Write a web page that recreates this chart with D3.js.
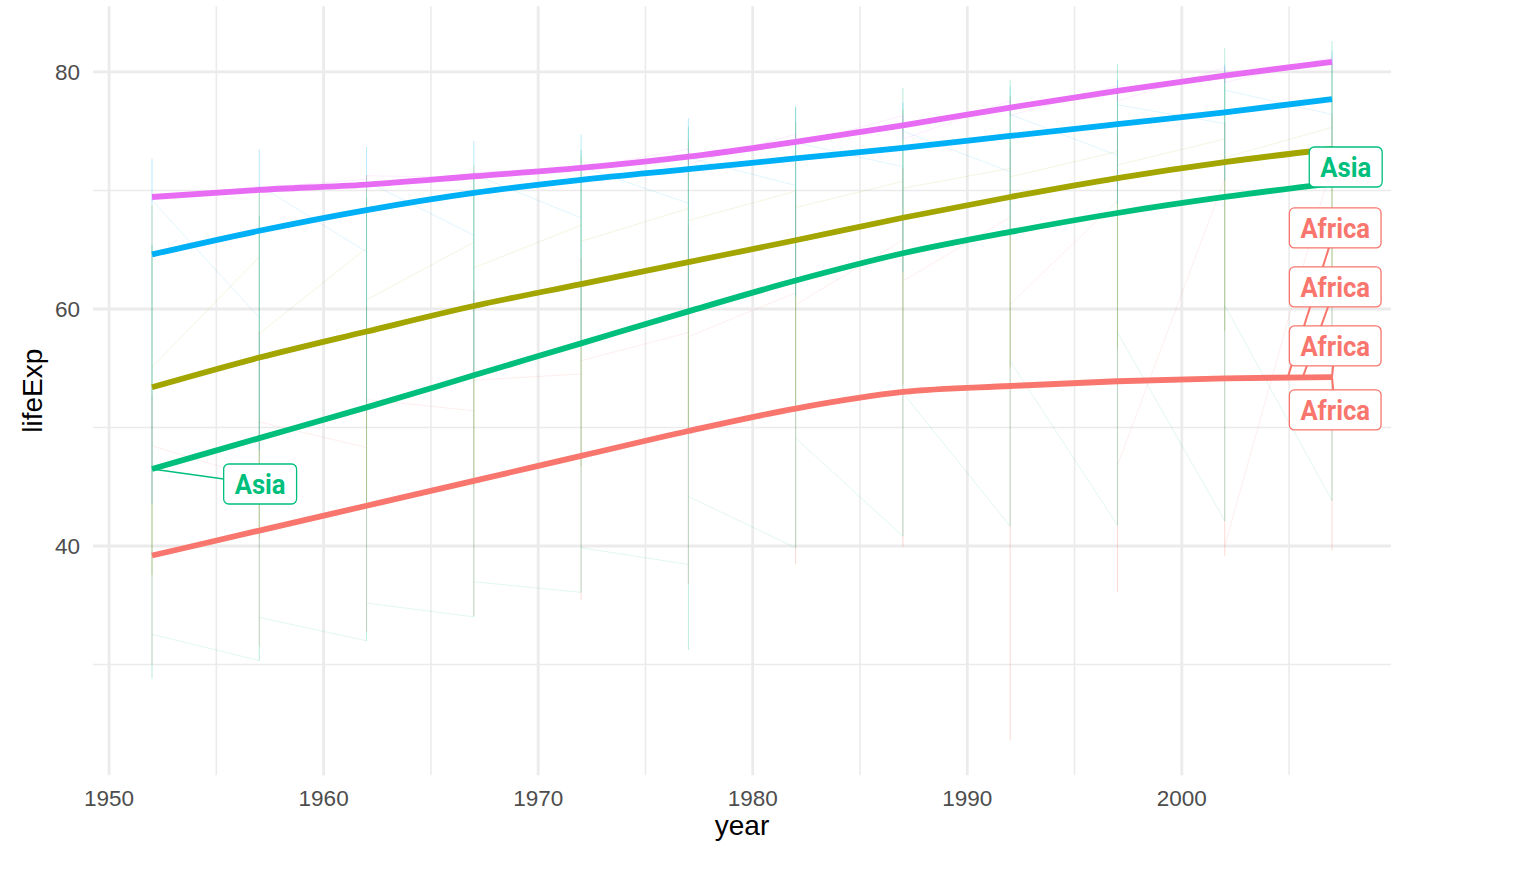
<!DOCTYPE html>
<html>
<head>
<meta charset="utf-8">
<script src="https://d3js.org/d3.v7.min.js"></script>
<style>
  body { margin: 0; background: #fff; }
  text { font-family: "Liberation Sans", Arial, sans-serif; }
  .lbl { font-family: Roboto, sans-serif; font-weight: 700; }
</style>
</head>
<body>
<script>
// gapminder life expectancy by continent
const years = [1952, 1957, 1962, 1967, 1972, 1977, 1982, 1987, 1992, 1997, 2002, 2007];
const continents = ["Africa", "Americas", "Asia", "Europe", "Oceania"];
const palette = ["#F8766D", "#A3A500", "#00BF7D", "#00B0F6", "#E76BF3"];

// smoothed trend
const smoothAfrica   = [39.2, 41.3, 43.4, 45.5, 47.6, 49.7, 51.6, 53.0, 53.5, 53.9, 54.15, 54.25];
const smoothAmericas = [53.4, 55.9, 58.1, 60.25, 62.1, 63.95, 65.8, 67.7, 69.45, 71.05, 72.4, 73.5];
const smoothAsia     = [46.5, 49.1, 51.7, 54.4, 57.1, 59.8, 62.4, 64.7, 66.5, 68.1, 69.45, 70.6];
const smoothEurope   = [64.6, 66.6, 68.35, 69.8, 70.9, 71.8, 72.7, 73.6, 74.6, 75.6, 76.6, 77.7];
const smoothOceania  = [69.45, 70.05, 70.5, 71.2, 71.9, 72.85, 74.1, 75.5, 77.0, 78.4, 79.7, 80.85];

// raw country spread per year: lowest, highest, first and last country
const minAfrica = [30.0, 31.57, 32.77, 34.11, 35.4, 36.79, 38.45, 39.91, 23.6, 36.09, 39.19, 39.61];
const maxAfrica = [52.72, 58.09, 60.25, 61.56, 64.27, 67.06, 69.89, 71.91, 73.62, 74.77, 75.74, 76.44];
const firstAfrica = [43.08, 45.69, 48.3, 51.41, 54.52, 58.01, 61.37, 65.8, 67.74, 69.15, 70.99, 72.3];
const lastAfrica = [48.45, 50.47, 52.36, 53.99, 55.64, 57.67, 60.36, 62.35, 60.38, 46.81, 39.99, 43.49];

const minAmericas = [37.58, 40.7, 43.43, 45.03, 46.71, 49.92, 51.46, 53.64, 55.09, 56.67, 58.14, 60.92];
const maxAmericas = [68.75, 69.96, 71.3, 72.13, 72.88, 74.21, 75.76, 76.86, 77.95, 78.61, 79.77, 80.65];
const firstAmericas = [62.49, 64.4, 65.14, 65.63, 67.07, 68.48, 69.94, 70.77, 71.87, 73.28, 74.34, 75.32];
const lastAmericas = [55.09, 57.91, 60.77, 63.48, 65.71, 67.46, 68.56, 70.19, 71.15, 72.15, 72.77, 73.75];

const minAsia = [28.8, 30.33, 32.0, 34.02, 36.09, 31.22, 39.85, 40.82, 41.67, 41.76, 42.13, 43.83];
const maxAsia = [65.39, 67.84, 69.39, 71.43, 73.42, 75.38, 77.11, 78.67, 79.36, 80.69, 82.0, 82.6];
const firstAsia = [28.8, 30.33, 32.0, 34.02, 36.09, 38.44, 39.85, 40.82, 41.67, 41.76, 42.13, 43.83];
const lastAsia = [32.55, 33.97, 35.18, 36.98, 39.85, 44.18, 49.11, 52.92, 55.6, 58.02, 60.31, 62.7];

const minEurope = [43.59, 48.08, 52.1, 54.34, 57.01, 59.51, 61.04, 63.11, 66.15, 68.84, 70.85, 71.78];
const maxEurope = [72.67, 73.47, 73.68, 74.16, 74.72, 76.11, 76.99, 77.41, 78.77, 79.39, 80.62, 81.76];
const firstEurope = [55.23, 59.28, 64.82, 66.22, 67.69, 68.93, 70.42, 72.0, 71.58, 72.95, 75.65, 76.42];
const lastEurope = [69.18, 70.42, 70.76, 71.36, 72.01, 72.76, 74.04, 75.01, 76.42, 77.22, 78.47, 79.43];

const minOceania = [69.12, 70.26, 70.93, 71.1, 71.89, 72.22, 73.84, 74.32, 76.33, 77.55, 79.11, 80.2];
const maxOceania = [69.39, 70.33, 71.24, 71.52, 71.93, 73.49, 74.74, 76.32, 77.56, 78.83, 80.37, 81.24];
const firstOceania = [69.12, 70.33, 70.93, 71.1, 71.93, 73.49, 74.74, 76.32, 77.56, 78.83, 80.37, 81.24];
const lastOceania = [69.39, 70.26, 71.24, 71.52, 71.89, 72.22, 73.84, 74.32, 76.33, 77.55, 79.11, 80.2];

// repelled labels: text, continent, label centre and the point it points to
const labelText = ["Asia", "Asia", "Africa", "Africa", "Africa", "Africa"];
const labelContinent = ["Asia", "Asia", "Africa", "Africa", "Africa", "Africa"];
const labelYear = [1957.04, 2007.64, 2007.15, 2007.15, 2007.15, 2007.15];
const labelValue = [45.23, 71.98, 66.84, 61.86, 56.88, 51.48];
const anchorYear = [1952, 2007, 2004.94, 2005.64, 2007, 2007];
const anchorValue = [46.5, 70.6, 54.25, 54.25, 54.25, 54.25];

const xTicks = [1950, 1960, 1970, 1980, 1990, 2000];
const xMinor = [1955, 1965, 1975, 1985, 1995, 2005];
const yTicks = [40, 60, 80];
const yMinor = [30, 50, 70];

const smooth = [smoothAfrica, smoothAmericas, smoothAsia, smoothEurope, smoothOceania];
const mins = [minAfrica, minAmericas, minAsia, minEurope, minOceania];
const maxs = [maxAfrica, maxAmericas, maxAsia, maxEurope, maxOceania];
const firsts = [firstAfrica, firstAmericas, firstAsia, firstEurope, firstOceania];
const lasts = [lastAfrica, lastAmericas, lastAsia, lastEurope, lastOceania];

const width = 1536, height = 872;
const color = d3.scaleOrdinal().domain(continents).range(palette);
const x = d3.scaleLinear().domain([1949.25, 2009.75]).range([93, 1391]);
const y = d3.scaleLinear().domain([20.65, 85.55]).range([775.3, 6.2]);

const svg = d3.select("body").append("svg")
    .attr("width", width)
    .attr("height", height);

// grid
const grid = svg.append("g");
grid.selectAll(".xminor").data(xMinor).join("line")
    .attr("x1", d => x(d)).attr("x2", d => x(d))
    .attr("y1", y.range()[0]).attr("y2", y.range()[1])
    .attr("stroke", "#EBEBEB").attr("stroke-width", 1.6);
grid.selectAll(".yminor").data(yMinor).join("line")
    .attr("y1", d => y(d)).attr("y2", d => y(d))
    .attr("x1", x.range()[0]).attr("x2", x.range()[1])
    .attr("stroke", "#EBEBEB").attr("stroke-width", 1.6);
grid.selectAll(".xmajor").data(xTicks).join("line")
    .attr("x1", d => x(d)).attr("x2", d => x(d))
    .attr("y1", y.range()[0]).attr("y2", y.range()[1])
    .attr("stroke", "#EBEBEB").attr("stroke-width", 2.8);
grid.selectAll(".ymajor").data(yTicks).join("line")
    .attr("y1", d => y(d)).attr("y2", d => y(d))
    .attr("x1", x.range()[0]).attr("x2", x.range()[1])
    .attr("stroke", "#EBEBEB").attr("stroke-width", 2.8);

// faint raw lines: vertical spread per year + connectors between years
const raw = svg.append("g");
continents.forEach((c, ci) => {
  const conn = [];
  for (let i = 0; i < years.length - 1; i++) {
    conn.push([years[i], lasts[ci][i], years[i + 1], firsts[ci][i + 1]]);
  }
  raw.selectAll(null).data(conn).join("line")
      .attr("x1", d => x(d[0])).attr("y1", d => y(d[1]))
      .attr("x2", d => x(d[2])).attr("y2", d => y(d[3]))
      .attr("stroke", color(c)).attr("stroke-width", 1)
      .attr("stroke-opacity", 0.12);
  raw.selectAll(null).data(years).join("line")
      .attr("x1", d => x(d)).attr("x2", d => x(d))
      .attr("y1", (d, i) => y(mins[ci][i])).attr("y2", (d, i) => y(maxs[ci][i]))
      .attr("stroke", color(c)).attr("stroke-width", 1)
      .attr("stroke-opacity", 0.28);
});

// smoothed lines
const line = d3.line()
    .x((d, i) => x(years[i]))
    .y(d => y(d))
    .curve(d3.curveMonotoneX);

svg.append("g").selectAll("path").data(continents).join("path")
    .attr("d", (c, ci) => line(smooth[ci]))
    .attr("fill", "none")
    .attr("stroke", c => color(c))
    .attr("stroke-width", 5.8)
    .attr("stroke-linecap", "butt");

// axes text
svg.append("g").selectAll("text").data(xTicks).join("text")
    .attr("x", d => x(d)).attr("y", 806)
    .attr("text-anchor", "middle")
    .attr("font-size", 22.5).attr("fill", "#4D4D4D")
    .text(d => d);
svg.append("g").selectAll("text").data(yTicks).join("text")
    .attr("x", 80).attr("y", d => y(d)).attr("dy", "0.36em")
    .attr("text-anchor", "end")
    .attr("font-size", 22.5).attr("fill", "#4D4D4D")
    .text(d => d);

svg.append("text")
    .attr("x", (x.range()[0] + x.range()[1]) / 2).attr("y", 835)
    .attr("text-anchor", "middle").attr("font-size", 28).attr("fill", "#000")
    .text("year");
svg.append("text")
    .attr("transform", `translate(42,${(y.range()[0] + y.range()[1]) / 2}) rotate(-90)`)
    .attr("text-anchor", "middle").attr("font-size", 28).attr("fill", "#000")
    .text("lifeExp");

// labels with leader lines
const labels = labelText.map((t, i) => ({
  text: t, cont: labelContinent[i],
  lx: x(labelYear[i]), ly: y(labelValue[i]),
  ax: x(anchorYear[i]), ay: y(anchorValue[i])
}));

const lab = svg.append("g");
lab.selectAll("line").data(labels).join("line")
    .attr("x1", d => d.ax).attr("y1", d => d.ay)
    .attr("x2", d => d.lx).attr("y2", d => d.ly)
    .attr("stroke", d => color(d.cont))
    .attr("stroke-width", (d, i) => i === 0 ? 1.6 : 2);

const box = lab.selectAll("g.box").data(labels).join("g")
    .attr("class", "box")
    .attr("transform", d => `translate(${d.lx},${d.ly})`);
box.append("text")
    .attr("class", "lbl")
    .attr("text-anchor", "middle").attr("dy", "0.36em")
    .attr("font-size", 28.5)
    .attr("transform", "scale(0.9,1)")
    .attr("fill", d => color(d.cont))
    .text(d => d.text);
box.each(function (d) {
  const w = d3.select(this).select("text").node().getComputedTextLength() * 0.9 + 22;
  d3.select(this).insert("rect", "text")
      .attr("x", -w / 2).attr("y", -20)
      .attr("width", w).attr("height", 40)
      .attr("rx", 5)
      .attr("fill", "#fff")
      .attr("stroke", color(d.cont))
      .attr("stroke-width", 1.3);
});
</script>
</body>
</html>
